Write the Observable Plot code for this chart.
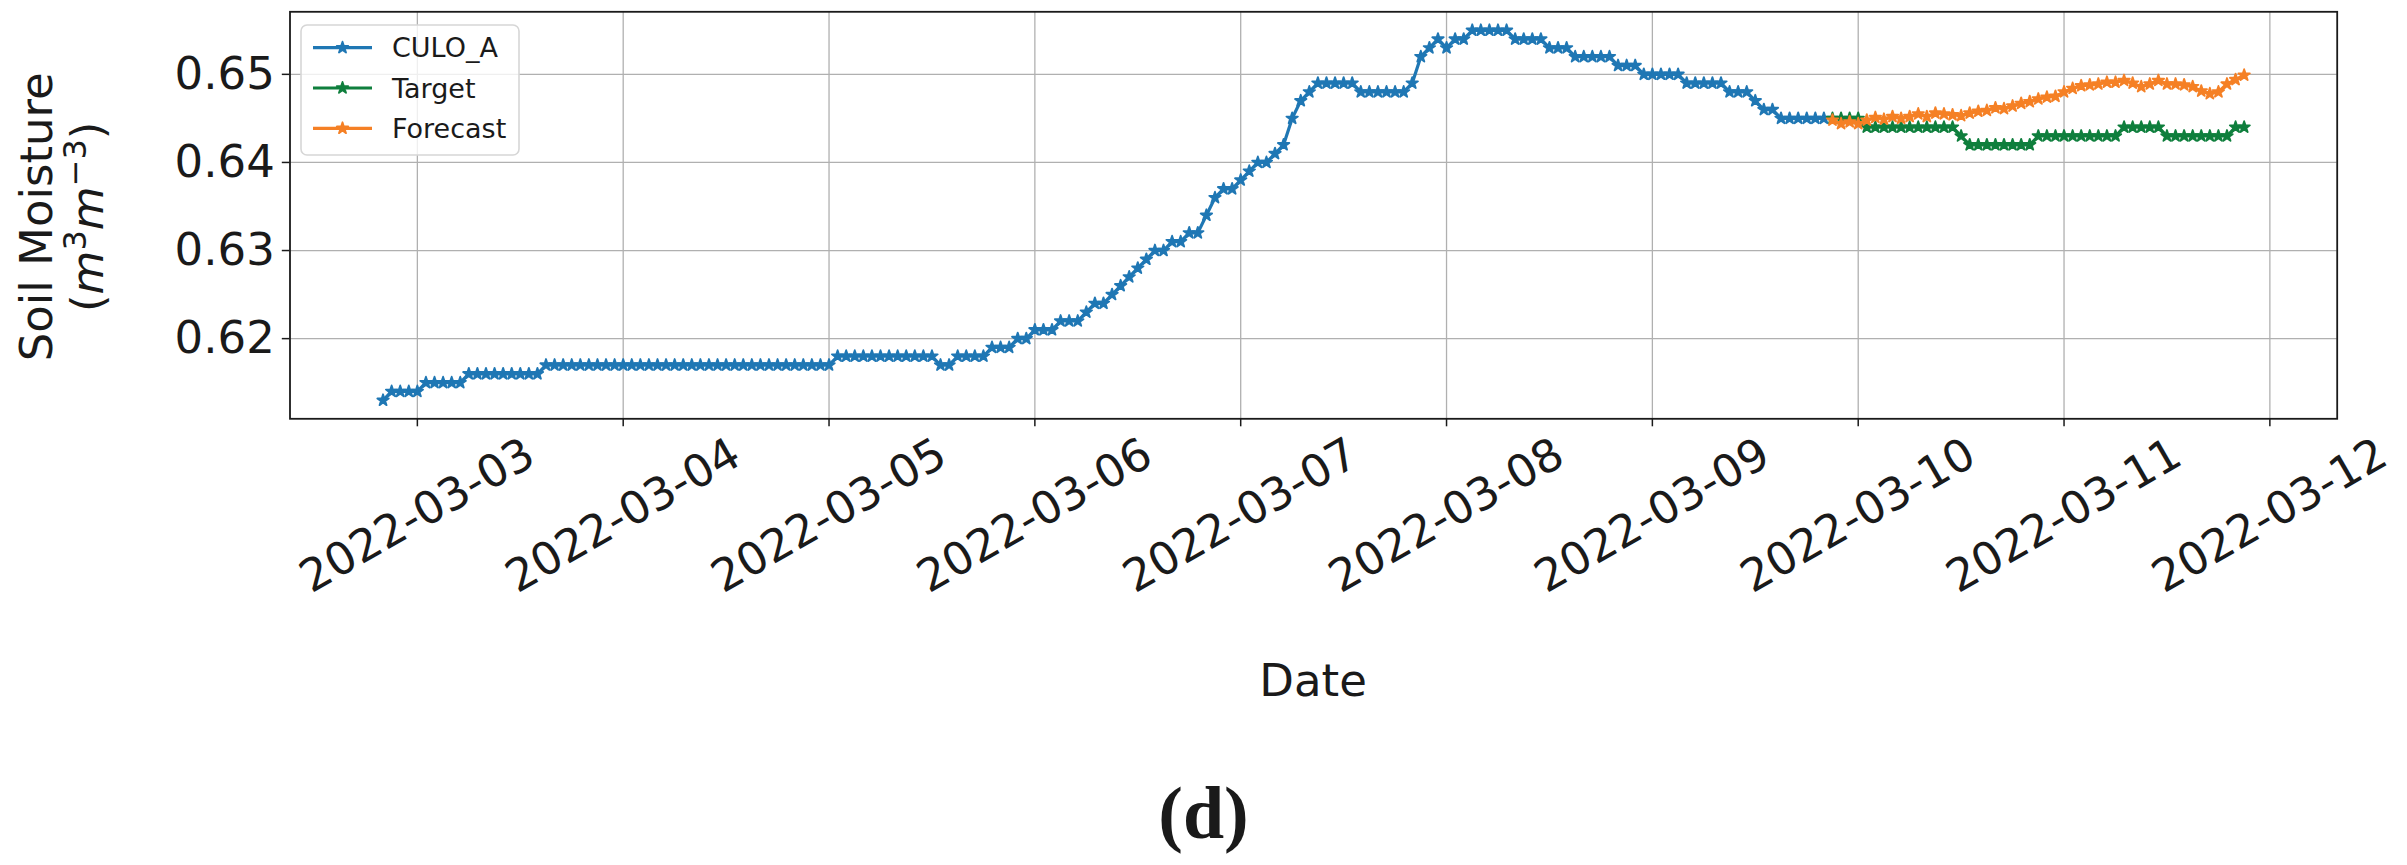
<!DOCTYPE html>
<html>
<head>
<meta charset="utf-8">
<script src="https://cdn.jsdelivr.net/npm/d3@7"></script>
<script src="https://cdn.jsdelivr.net/npm/@observablehq/plot@0.6"></script>
<style>
  html, body { margin: 0; padding: 0; background: #ffffff; }
  svg { display: block; }
</style>
</head>
<body>
<div id="chart"></div>
<script>
// ---------------- data (hourly observations) ----------------
const culoAStart = "2022-03-02T20:00:00Z";   // first CULO_A sample
const targetStart = "2022-03-09T21:00:00Z";  // first Target / Forecast sample

const culoA = [
  // 2022-03-02 20:00 - 23:00
  0.613, 0.614, 0.614, 0.614,
  // 2022-03-03
  0.614, 0.615, 0.615, 0.615, 0.615, 0.615, 0.616, 0.616, 0.616, 0.616, 0.616, 0.616,
  0.616, 0.616, 0.616, 0.617, 0.617, 0.617, 0.617, 0.617, 0.617, 0.617, 0.617, 0.617,
  // 2022-03-04
  0.617, 0.617, 0.617, 0.617, 0.617, 0.617, 0.617, 0.617, 0.617, 0.617, 0.617, 0.617,
  0.617, 0.617, 0.617, 0.617, 0.617, 0.617, 0.617, 0.617, 0.617, 0.617, 0.617, 0.617,
  // 2022-03-05
  0.617, 0.618, 0.618, 0.618, 0.618, 0.618, 0.618, 0.618, 0.618, 0.618, 0.618, 0.618,
  0.618, 0.617, 0.617, 0.618, 0.618, 0.618, 0.618, 0.619, 0.619, 0.619, 0.620, 0.620,
  // 2022-03-06
  0.621, 0.621, 0.621, 0.622, 0.622, 0.622, 0.623, 0.624, 0.624, 0.625, 0.626, 0.627,
  0.628, 0.629, 0.630, 0.630, 0.631, 0.631, 0.632, 0.632, 0.634, 0.636, 0.637, 0.637,
  // 2022-03-07
  0.638, 0.639, 0.640, 0.640, 0.641, 0.642, 0.645, 0.647, 0.648, 0.649, 0.649, 0.649,
  0.649, 0.649, 0.648, 0.648, 0.648, 0.648, 0.648, 0.648, 0.649, 0.652, 0.653, 0.654,
  // 2022-03-08
  0.653, 0.654, 0.654, 0.655, 0.655, 0.655, 0.655, 0.655, 0.654, 0.654, 0.654, 0.654,
  0.653, 0.653, 0.653, 0.652, 0.652, 0.652, 0.652, 0.652, 0.651, 0.651, 0.651, 0.650,
  // 2022-03-09 00:00 - 20:00
  0.650, 0.650, 0.650, 0.650, 0.649, 0.649, 0.649, 0.649, 0.649, 0.648, 0.648, 0.648,
  0.647, 0.646, 0.646, 0.645, 0.645, 0.645, 0.645, 0.645, 0.645
];

const target = [
  0.645, 0.645, 0.645, 0.645, 0.644, 0.644, 0.644, 0.644, 0.644, 0.644, 0.644, 0.644,
  0.644, 0.644, 0.644, 0.643, 0.642, 0.642, 0.642, 0.642, 0.642, 0.642, 0.642, 0.642,
  0.643, 0.643, 0.643, 0.643, 0.643, 0.643, 0.643, 0.643, 0.643, 0.643, 0.644, 0.644,
  0.644, 0.644, 0.644, 0.643, 0.643, 0.643, 0.643, 0.643, 0.643, 0.643, 0.643, 0.644,
  0.644
];

const forecast = [
  0.6448, 0.6444, 0.6446, 0.6444, 0.6448, 0.6451, 0.6449, 0.6452, 0.6450, 0.6452, 0.6455, 0.6452,
  0.6456, 0.6455, 0.6454, 0.6453, 0.6456, 0.6458, 0.6459, 0.6462, 0.6461, 0.6464, 0.6467, 0.6469,
  0.6472, 0.6474, 0.6475, 0.6480, 0.6484, 0.6487, 0.6488, 0.6489, 0.6491, 0.6491, 0.6493, 0.6490,
  0.6486, 0.6489, 0.6493, 0.6489, 0.6489, 0.6488, 0.6486, 0.6481, 0.6478, 0.6480, 0.6489, 0.6494,
  0.6499
];

const seriesNames = ["CULO_A", "Target", "Forecast"];
const seriesColors = ["#1f77b4", "#0f7f3d", "#f58025"];
const xTickLabels = ["2022-03-03", "2022-03-04", "2022-03-05", "2022-03-06", "2022-03-07",
                     "2022-03-08", "2022-03-09", "2022-03-10", "2022-03-11", "2022-03-12"];
const yTicks = [0.62, 0.63, 0.64, 0.65];
const yLabel = "Soil Moisture";
const xLabel = "Date";
const caption = "(d)";

// ---------------- build tables ----------------
const HOUR = 3600 * 1000;
const t0 = new Date(culoAStart).getTime();
const t1 = new Date(targetStart).getTime();
const rowsA = culoA.map((v, i) => ({date: new Date(t0 + i * HOUR), value: v}));
const rowsT = target.map((v, i) => ({date: new Date(t1 + i * HOUR), value: v}));
const rowsF = forecast.map((v, i) => ({date: new Date(t1 + i * HOUR), value: v}));
const xTicks = xTickLabels.map(s => new Date(s + "T00:00:00Z"));

// matplotlib-like 5% margins
const xFirst = t0, xLast = t1 + (target.length - 1) * HOUR;
const xPad = 0.05 * (xLast - xFirst);
const allY = culoA.concat(target, forecast);
const yMin = d3.min(allY), yMax = d3.max(allY), yPad = 0.05 * (yMax - yMin);

// ---------------- layout ----------------
const W = 2407, H = 865;
const frameL = 289.5, frameR = 2336.7, frameT = 11.3, frameB = 418.3;
const ink = "#1a1a1a";
const R = 3.6;      // star radius
const LW = 3.2;     // line width
const ME = 1.8;     // marker edge width

const series = [rowsA, rowsT, rowsF];

const plot = Plot.plot({
  width: W,
  height: H,
  marginLeft: frameL,
  marginRight: W - frameR,
  marginTop: frameT,
  marginBottom: H - frameB,
  style: {fontFamily: "DejaVu Sans", background: "#ffffff", color: ink, overflow: "visible"},
  x: {type: "utc", domain: [new Date(xFirst - xPad), new Date(xLast + xPad)], label: null},
  y: {domain: [yMin - yPad, yMax + yPad], label: null},
  marks: [
    Plot.gridX(xTicks, {stroke: "#b0b0b0", strokeOpacity: 1, strokeWidth: 1.3}),
    Plot.gridY(yTicks, {stroke: "#b0b0b0", strokeOpacity: 1, strokeWidth: 1.3}),
    ...series.flatMap((rows, k) => [
      Plot.line(rows, {x: "date", y: "value", stroke: seriesColors[k], strokeWidth: LW}),
      Plot.dot(rows, {x: "date", y: "value", symbol: "star", r: R, fill: seriesColors[k],
        stroke: seriesColors[k], strokeWidth: ME, strokeLinejoin: "round"})
    ]),
    Plot.frame({stroke: ink, strokeWidth: 1.8}),
    Plot.axisY(yTicks, {tickSize: 7.7, tickPadding: 7.5, fontSize: 45, strokeWidth: 1.5,
      tickFormat: d3.format(".2f"), label: null}),
    Plot.axisX(xTicks, {tickSize: 8, strokeWidth: 1.5, tickFormat: () => "", label: null}),
    Plot.text(xTicks, {x: d => d, text: (d, i) => xTickLabels[i], frameAnchor: "bottom",
      dy: 97, rotate: -30, fontSize: 45, textAnchor: "middle", lineAnchor: "middle", fill: ink})
  ]
});

document.getElementById("chart").appendChild(plot);

// ---------------- annotations ----------------
const svg = d3.select(plot);
const fontFam = "DejaVu Sans";
const yMid = (frameT + frameB) / 2 + 2;

svg.append("text")
  .attr("transform", `translate(52,${yMid}) rotate(-90)`)
  .attr("text-anchor", "middle").attr("font-family", fontFam).attr("font-size", 45)
  .attr("fill", ink).text(yLabel);

const unit = svg.append("text")
  .attr("transform", `translate(103,${yMid}) rotate(-90)`)
  .attr("text-anchor", "middle").attr("font-family", fontFam).attr("font-size", 45)
  .attr("fill", ink);
unit.append("tspan").text("(");
unit.append("tspan").attr("font-style", "italic").text("m");
unit.append("tspan").attr("font-size", 32).attr("dy", -17).text("3");
unit.append("tspan").attr("font-style", "italic").attr("dy", 17).text("m");
unit.append("tspan").attr("font-size", 32).attr("dy", -17).text("\u22123");
unit.append("tspan").attr("dy", 17).text(")");

svg.append("text")
  .attr("x", (frameL + frameR) / 2).attr("y", 696)
  .attr("text-anchor", "middle").attr("font-family", fontFam).attr("font-size", 45)
  .attr("fill", ink).text(xLabel);

svg.append("text")
  .attr("x", W / 2).attr("y", 838)
  .attr("text-anchor", "middle").attr("font-family", "Liberation Serif")
  .attr("font-weight", "bold").attr("font-size", 74)
  .attr("fill", ink).text(caption);

// legend
const lg = svg.append("g");
lg.append("rect").attr("x", 301).attr("y", 25).attr("width", 218).attr("height", 130)
  .attr("rx", 6).attr("fill", "#ffffff").attr("fill-opacity", 0.8)
  .attr("stroke", "#d6d6d6").attr("stroke-width", 1.6);
const starPath = d3.symbol(d3.symbolStar, Math.PI * R * R)();
seriesNames.forEach((name, i) => {
  const y = 47.7 + i * 40.3;
  lg.append("line").attr("x1", 313).attr("x2", 372).attr("y1", y).attr("y2", y)
    .attr("stroke", seriesColors[i]).attr("stroke-width", LW);
  lg.append("path").attr("d", starPath).attr("transform", `translate(342.5,${y})`)
    .attr("fill", seriesColors[i]).attr("stroke", seriesColors[i])
    .attr("stroke-width", ME).attr("stroke-linejoin", "round");
  lg.append("text").attr("x", 392).attr("y", y).attr("dy", "0.36em")
    .attr("text-anchor", "start")
    .attr("font-family", fontFam).attr("font-size", 27).attr("fill", ink).text(name);
});
</script>
</body>
</html>
